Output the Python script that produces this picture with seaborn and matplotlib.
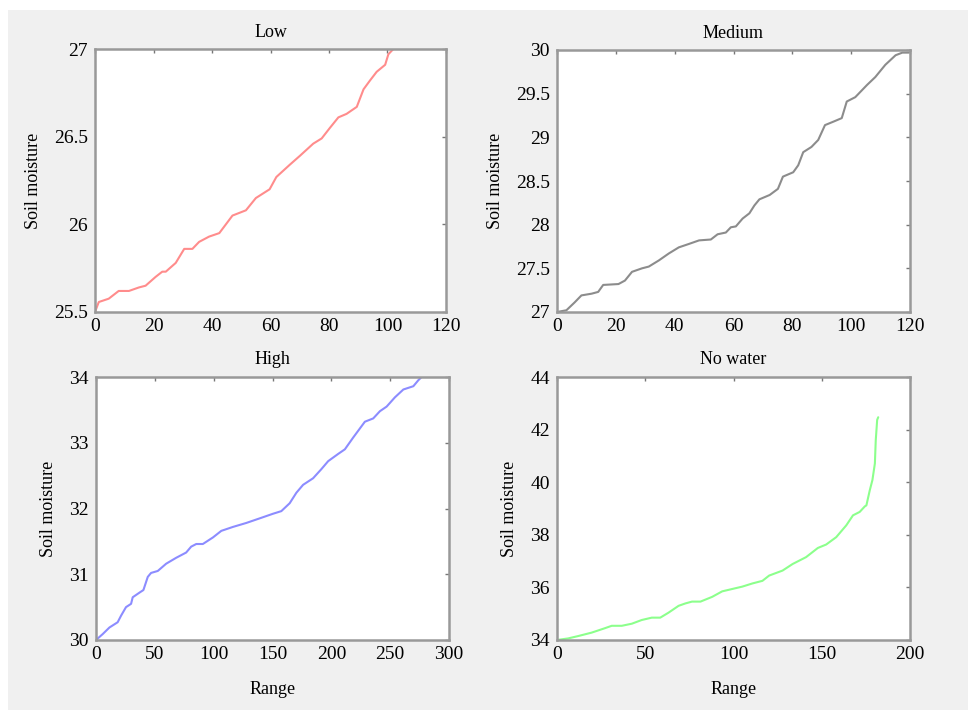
import numpy as np
import pandas as pd
import matplotlib
matplotlib.use("Agg")
import matplotlib.pyplot as plt
import seaborn as sns
from matplotlib.patches import Rectangle

# values
low_x = [0, 1.3, 4.7, 8.1, 11.6, 15, 17.3, 20.7, 23, 24.2, 27.6, 30.5, 33.3, 35.6, 39, 42.5,
         47, 51.6, 55, 59.7, 62, 66.6, 70, 74.6, 77.5, 80.3, 83.2, 86, 89.5, 91.8, 94, 96.3,
         99.2, 100.3, 102]
low_y = [25.5, 25.557, 25.576, 25.62, 25.62, 25.64, 25.65, 25.70, 25.73, 25.73, 25.78, 25.86,
         25.86, 25.90, 25.93, 25.95, 26.05, 26.08, 26.15, 26.20, 26.27, 26.34, 26.39, 26.46,
         26.49, 26.55, 26.61, 26.63, 26.67, 26.77, 26.82, 26.87, 26.91, 26.97, 27.0]

med_x = [0, 3.2, 6, 8.3, 11.8, 14, 15.7, 20.9, 23.1, 25.5, 28.9, 31.2, 34.6, 38, 41.4, 44.9,
         48.3, 52.3, 54.6, 57.4, 59.1, 60.8, 63.1, 65.4, 67.1, 68.8, 72.3, 75.1, 76.8, 80.3,
         82, 83.7, 86.5, 88.8, 91.1, 94, 96.8, 98.5, 101.4, 105.4, 108.2, 111.6, 115.1, 117.4,
         119.6]
med_y = [27.0, 27.02, 27.11, 27.19, 27.21, 27.23, 27.31, 27.32, 27.36, 27.46, 27.50, 27.52,
         27.59, 27.67, 27.74, 27.78, 27.82, 27.83, 27.89, 27.91, 27.97, 27.98, 28.07, 28.13,
         28.22, 28.29, 28.34, 28.41, 28.55, 28.60, 28.68, 28.83, 28.89, 28.97, 29.14, 29.18,
         29.22, 29.41, 29.46, 29.60, 29.69, 29.83, 29.94, 29.97, 29.97]

high_x = [0, 5.7, 11.4, 18.4, 21.3, 25.5, 29.8, 31.2, 36.9, 40.3, 44, 46.8, 52.5, 59.6, 68.1,
          76.6, 80.9, 85.2, 90.8, 99.4, 106.5, 116.4, 127.7, 139.1, 150.4, 157.5, 164.6,
          170.3, 176, 184.5, 191.6, 197.3, 205.8, 211.5, 218.6, 228.5, 235.6, 241.3, 247,
          254, 261.2, 269.7, 273.9, 276.7]
high_y = [30.0, 30.09, 30.19, 30.27, 30.37, 30.50, 30.55, 30.65, 30.72, 30.76, 30.96, 31.02,
          31.05, 31.16, 31.25, 31.33, 31.42, 31.46, 31.46, 31.56, 31.66, 31.72, 31.78, 31.85,
          31.92, 31.96, 32.08, 32.24, 32.36, 32.46, 32.60, 32.72, 32.83, 32.90, 33.08, 33.32,
          33.37, 33.48, 33.55, 33.69, 33.81, 33.86, 33.95, 34.0]

nowater_x = [0, 6.3, 12, 19.6, 27.2, 31, 36.7, 42.4, 48, 53.7, 58.5, 63.2, 68.9, 72.7, 76.5,
             81.3, 87.9, 93.6, 99.3, 105, 110.7, 116.4, 120.2, 127.8, 133.5, 141.1, 147.8,
             152.5, 158.2, 163.9, 167.7, 171.5, 174.4, 175.3, 177.2, 178.7, 180.1, 180.6,
             181.4, 182]
nowater_y = [34.0, 34.06, 34.15, 34.28, 34.45, 34.54, 34.54, 34.62, 34.76, 34.85, 34.85, 35.04,
             35.30, 35.39, 35.46, 35.46, 35.64, 35.85, 35.94, 36.03, 36.15, 36.25, 36.45, 36.64,
             36.89, 37.15, 37.50, 37.63, 37.91, 38.36, 38.74, 38.87, 39.08, 39.12, 39.69,
             40.08, 40.71, 41.6, 42.37, 42.47]

titles = ["Low", "Medium", "High", "No water"]
colors = ["#ff8c8c", "#8c8c8c", "#8c8cff", "#8cff8c"]
xlims = [(0, 120), (0, 120), (0, 300), (0, 200)]
ylims = [(25.5, 27), (27, 30), (30, 34), (34, 44)]
xticks = [np.arange(0, 121, 20), np.arange(0, 121, 20), np.arange(0, 301, 50), np.arange(0, 201, 50)]
yticks = [[25.5, 26, 26.5, 27], [27, 27.5, 28, 28.5, 29, 29.5, 30], [30, 31, 32, 33, 34],
          [34, 36, 38, 40, 42, 44]]
ytick_labels = [["25.5", "26", "26.5", "27"], ["27", "27.5", "28", "28.5", "29", "29.5", "30"],
                ["30", "31", "32", "33", "34"], ["34", "36", "38", "40", "42", "44"]]

series = [(low_x, low_y), (med_x, med_y), (high_x, high_y), (nowater_x, nowater_y)]

sns.set_theme(style="white")
plt.rcParams['font.family'] = ['Liberation Serif', 'DejaVu Serif']
plt.rcParams['text.color'] = 'black'
plt.rcParams['axes.labelcolor'] = 'black'

fig = plt.figure(figsize=(9.68, 7.10), dpi=100, facecolor="white")
fig.patches.append(Rectangle((8 / 968, 0), 1 - 8 / 968, 1 - 10 / 710, transform=fig.transFigure,
                             facecolor="#f0f0f0", edgecolor="none", zorder=-10))

positions = [
    [95 / 968, 1 - 312 / 710, 351 / 968, 263 / 710],
    [557 / 968, 1 - 312 / 710, 353 / 968, 262 / 710],
    [96 / 968, 1 - 640 / 710, 353 / 968, 263 / 710],
    [557 / 968, 1 - 640 / 710, 353 / 968, 263 / 710],
]

for i in range(4):
    ax = fig.add_axes(positions[i])
    ax.set_facecolor("white")
    df = pd.DataFrame({"x": series[i][0], "y": series[i][1]})
    sns.lineplot(data=df, x="x", y="y", ax=ax, color=colors[i], linewidth=1.5)
    ax.set_xlim(*xlims[i])
    ax.set_ylim(*ylims[i])
    ax.set_xticks(xticks[i])
    ax.set_yticks(yticks[i])
    ax.set_yticklabels(ytick_labels[i])
    ax.set_title(titles[i], fontsize=13, pad=9, color="black")
    ax.set_ylabel("Soil moisture", fontsize=13, labelpad=9)
    if i >= 2:
        ax.set_xlabel("Range", fontsize=13, labelpad=13)
    else:
        ax.set_xlabel("")
    ax.tick_params(direction="in", length=3, width=1, color="#777777", labelsize=14,
                   top=True, right=True, labelcolor="black")
    ax.tick_params(axis="y", pad=5)
    ax.tick_params(axis="x", pad=4)
    for s in ax.spines.values():
        s.set_color("#999999")
        s.set_linewidth(1.8)

fig.savefig("out.png", dpi=100, facecolor=fig.get_facecolor())
